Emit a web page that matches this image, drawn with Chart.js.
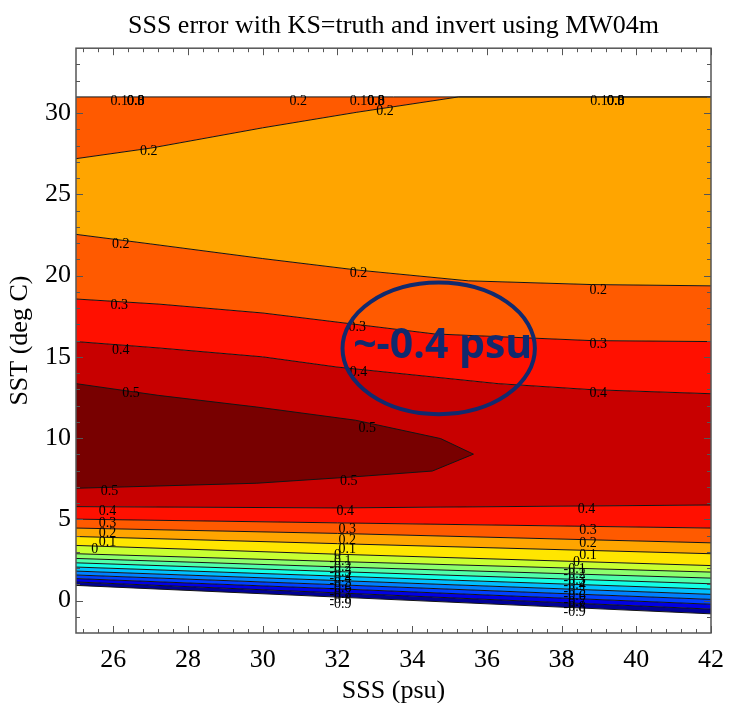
<!DOCTYPE html>
<html>
<head>
<meta charset="utf-8">
<script src="https://cdn.jsdelivr.net/npm/chart.js@4.4.1/dist/chart.umd.min.js"></script>
<style>
  html, body { margin: 0; padding: 0; background: #fff; }
</style>
</head>
<body>
<canvas id="chart" width="736" height="703"></canvas>
<script>
// axis ticks
const sssTicks = [26, 28, 30, 32, 34, 36, 38, 40, 42];
const sstTicks = [0, 5, 10, 15, 20, 25, 30];

// contour lines as [SSS, SST] pairs, top of the plot downwards
const topEdge = [[25, 31], [42, 31]];
const upper02 = [[25, 27.2], [27, 27.85], [30, 29.1], [32.5, 30.05], [35.24, 31], [42, 31]];
const middle02 = [[25, 22.54], [27, 21.95], [30, 21.05], [32.5, 20.35], [35.5, 19.68], [38.8, 19.45], [42, 19.37]];
const upper03 = [[25, 18.56], [27.2, 18.25], [30, 17.7], [32.2, 17.08], [34.6, 16.41], [38.8, 16.0], [42, 15.94]];
const upper04 = [[25, 15.94], [27.2, 15.55], [30, 15.0], [32, 14.37], [36.3, 13.35], [38.8, 12.98], [42, 12.73]];

// the >0.5 tongue on the left
const tongueTop = [[25, 13.35], [27.2, 12.63], [29.84, 11.91], [32.48, 11.1], [34.76, 9.97], [35.64, 9.01]];
const tongueBottom = [[25, 6.91], [29.84, 7.22], [32.48, 7.62], [34.54, 7.97], [35.64, 9.01]];

// lower stack of near-straight contours, read at SSS = 25, 32 and 42
const lowLevels = ['0.4', '0.3', '0.2', '0.1', '0', '-0.1', '-0.2', '-0.3', '-0.4', '-0.5', '-0.6', '-0.7', '-0.8', '-0.9'];
const lowAt25 = [5.78, 5.01, 4.46, 3.94, 3.39, 2.88, 2.59, 2.32, 2.06, 1.81, 1.57, 1.35, 1.14, 0.93];
const lowAt32 = [5.70, 4.78, 4.13, 3.50, 2.85, 2.40, 2.07, 1.78, 1.50, 1.23, 0.97, 0.72, 0.47, 0.21];
const lowAt42 = [5.88, 4.46, 3.55, 2.88, 2.15, 1.75, 1.38, 1.03, 0.70, 0.38, 0.07, -0.23, -0.53, -0.82];

// fill colour of the band lying above each line
const upperBandColors = ['#ff5a00', '#ffa500', '#ff5a00', '#ff1000'];
const lowBandColors = ['#c80000', '#ff1000', '#ff5a00', '#ffa500', '#ffe600', '#c8ff32', '#8cff6e', '#50ffaa',
  '#14ffe6', '#00bfff', '#0080ff', '#0040ff', '#0000e6', '#000096'];
const tongueColor = '#780000';

// contour labels: text, SSS, SST
const contourLabels = [
  ['0.1', 26.16, 30.72], ['0.0', 26.6, 30.72], ['0.3', 26.6, 30.72], ['0.8', 26.6, 30.72],
  ['0.2', 30.95, 30.72],
  ['0.1', 32.56, 30.72], ['0.0', 33.03, 30.72], ['0.3', 33.03, 30.72], ['0.8', 33.03, 30.72],
  ['0.1', 39.0, 30.72], ['0.0', 39.45, 30.72], ['0.3', 39.45, 30.72], ['0.8', 39.45, 30.72],
  ['0.2', 26.95, 27.65], ['0.2', 33.27, 30.1],
  ['0.2', 26.2, 21.95], ['0.2', 32.56, 20.13], ['0.2', 38.98, 19.07],
  ['0.3', 26.16, 18.15], ['0.3', 32.53, 16.82], ['0.3', 38.98, 15.76],
  ['0.4', 26.2, 15.43], ['0.4', 32.56, 14.06], ['0.4', 38.98, 12.77],
  ['0.5', 26.47, 12.77], ['0.5', 32.8, 10.59], ['0.5', 32.3, 7.31], ['0.5', 25.9, 6.7],
  ['0.4', 25.84, 5.48], ['0.3', 25.84, 4.76], ['0.2', 25.84, 4.15], ['0.1', 25.84, 3.58], ['0', 25.5, 3.17],
  ['0.4', 32.21, 5.48], ['0.3', 32.26, 4.41], ['0.2', 32.26, 3.7], ['0.1', 32.26, 3.13], ['0', 32.0, 2.76],
  ['-0.1', 32.08, 2.40], ['-0.2', 32.08, 2.05], ['-0.3', 32.08, 1.72], ['-0.4', 32.08, 1.38], ['-0.5', 32.08, 1.05],
  ['-0.6', 32.08, 0.72], ['-0.7', 32.08, 0.39], ['-0.8', 32.08, 0.06], ['-0.9', 32.08, -0.25],
  ['0.4', 38.67, 5.62], ['0.3', 38.71, 4.35], ['0.2', 38.71, 3.49], ['0.1', 38.71, 2.76], ['0', 38.4, 2.35],
  ['-0.1', 38.35, 1.95], ['-0.2', 38.35, 1.61], ['-0.3', 38.35, 1.27], ['-0.4', 38.35, 0.93], ['-0.5', 38.35, 0.59],
  ['-0.6', 38.35, 0.25], ['-0.7', 38.35, -0.09], ['-0.8', 38.35, -0.42], ['-0.9', 38.35, -0.74]
];

// circled note
const noteText = '~-0.4 psu';
const noteCenter = [34.71, 15.52];
const noteRadius = [2.575, 4.05];
const noteBaseline = 14.9;

const pts = arr => arr.map(([x, y]) => ({x, y}));
const lineStyle = { borderColor: '#141414', borderWidth: 1, pointRadius: 0, tension: 0 };

const datasets = [
  { data: pts(tongueTop), fill: false, ...lineStyle },
  { data: pts(tongueBottom), fill: '-1', backgroundColor: tongueColor, ...lineStyle },
  { data: pts(topEdge), fill: false, ...lineStyle }
];
[upper02, middle02, upper03, upper04].forEach((line, i) => {
  datasets.push({ data: pts(line), fill: '-1', backgroundColor: upperBandColors[i], ...lineStyle });
});
lowLevels.forEach((lvl, i) => {
  datasets.push({
    label: lvl,
    data: pts([[25, lowAt25[i]], [32, lowAt32[i]], [42, lowAt42[i]]]),
    fill: '-1', backgroundColor: lowBandColors[i], ...lineStyle
  });
});

const serif = '"Liberation Serif", "Times New Roman", serif';

const overlay = {
  id: 'overlay',
  afterDatasetsDraw(chart) {
    const {ctx, scales: {x, y}} = chart;
    ctx.save();
    ctx.font = '14px ' + serif;
    ctx.fillStyle = '#000';
    ctx.textAlign = 'center';
    ctx.textBaseline = 'middle';
    contourLabels.forEach(([t, s, v]) => ctx.fillText(t, x.getPixelForValue(s), y.getPixelForValue(v)));

    const cx = x.getPixelForValue(noteCenter[0]);
    const cy = y.getPixelForValue(noteCenter[1]);
    const rx = x.getPixelForValue(noteCenter[0] + noteRadius[0]) - cx;
    const ry = cy - y.getPixelForValue(noteCenter[1] + noteRadius[1]);
    ctx.strokeStyle = '#112a6e';
    ctx.lineWidth = 4;
    ctx.beginPath();
    ctx.ellipse(cx, cy, rx, ry, 0, 0, Math.PI * 2);
    ctx.stroke();
    ctx.font = 'bold 41px "Open Sans", sans-serif';
    ctx.fillStyle = '#112a6e';
    ctx.textBaseline = 'alphabetic';
    ctx.fillText(noteText, cx + 4, y.getPixelForValue(noteBaseline));
    ctx.restore();
  },
  afterDraw(chart) {
    const {ctx, chartArea: a, scales: {x, y}} = chart;
    ctx.save();
    ctx.strokeStyle = '#555';
    ctx.lineWidth = 1.5;
    ctx.strokeRect(a.left, a.top, a.right - a.left, a.bottom - a.top);
    ctx.lineWidth = 1;
    const tickX = (v, len) => {
      const p = Math.round(x.getPixelForValue(v)) + 0.5;
      ctx.moveTo(p, a.bottom); ctx.lineTo(p, a.bottom - len);
      ctx.moveTo(p, a.top); ctx.lineTo(p, a.top + len);
    };
    const tickY = (v, len) => {
      const p = Math.round(y.getPixelForValue(v)) + 0.5;
      ctx.moveTo(a.left, p); ctx.lineTo(a.left + len, p);
      ctx.moveTo(a.right, p); ctx.lineTo(a.right - len, p);
    };
    ctx.beginPath();
    for (let k = -2; k <= 40; k++) {
      const v = 26 + k * 0.4;
      if (k % 5 !== 0) tickX(v, 4);
    }
    sssTicks.forEach(v => tickX(v, 7));
    for (let v = -1; v <= 33; v++) {
      if (v % 5 !== 0) tickY(v, 4);
    }
    sstTicks.forEach(v => tickY(v, 7));
    ctx.stroke();
    ctx.restore();
  }
};

new Chart(document.getElementById('chart'), {
  type: 'line',
  data: { datasets },
  plugins: [overlay],
  options: {
    responsive: false,
    animation: false,
    devicePixelRatio: 1,
    layout: { padding: { right: 14 } },
    plugins: {
      legend: { display: false },
      tooltip: { enabled: false },
      filler: { propagate: false, drawTime: 'beforeDatasetsDraw' },
      title: {
        display: true,
        fullSize: false,
        text: 'SSS error with KS=truth and invert using MW04m',
        color: '#000',
        font: { family: serif, size: 26, weight: 'normal', lineHeight: 1.2 },
        padding: { top: 11, bottom: 6 }
      }
    },
    scales: {
      x: {
        type: 'linear',
        min: 25, max: 42,
        afterBuildTicks: s => { s.ticks = sssTicks.map(v => ({ value: v })); },
        afterFit: s => { s.height = 70; },
        grid: { display: false, drawTicks: false },
        border: { display: false },
        ticks: { color: '#000', font: { family: serif, size: 26 }, padding: 12, maxRotation: 0 },
        title: { display: true, text: 'SSS (psu)', color: '#000', font: { family: serif, size: 26, lineHeight: 0.9 }, padding: 0 }
      },
      y: {
        type: 'linear',
        min: -2, max: 34,
        afterBuildTicks: s => { s.ticks = sstTicks.map(v => ({ value: v })); },
        afterFit: s => { s.width = 76; },
        grid: { display: false, drawTicks: false },
        border: { display: false },
        ticks: { color: '#000', font: { family: serif, size: 26 }, padding: 5 },
        title: { display: true, text: 'SST (deg C)', color: '#000', font: { family: serif, size: 26 }, padding: { top: 5, bottom: 0 } }
      }
    }
  }
});
</script>
</body>
</html>
